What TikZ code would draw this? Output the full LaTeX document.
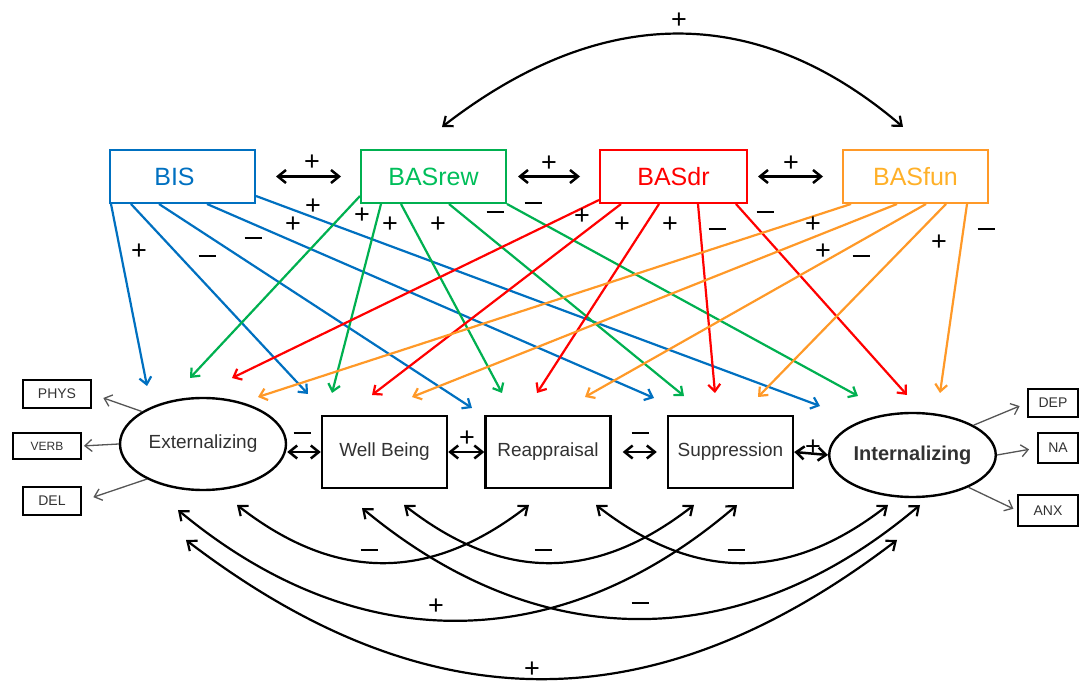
\documentclass[tikz,border=0pt]{standalone}
\usepackage{fontspec}
\setmainfont{Liberation Sans}
\usetikzlibrary{arrows.meta,shapes.geometric,calc}
\definecolor{cblue}{RGB}{0,112,192}
\definecolor{cgreen}{RGB}{0,176,80}
\definecolor{cgreentxt}{RGB}{0,190,90}
\definecolor{cred}{RGB}{255,0,0}
\definecolor{corange}{RGB}{255,153,40}
\definecolor{corangetxt}{RGB}{255,176,40}
\definecolor{cgrey}{RGB}{85,85,85}
\definecolor{ctext}{RGB}{50,50,50}
\begin{document}
\begin{tikzpicture}[x=1pt,y=-1pt,
  topbox/.style={draw, line width=2pt, minimum width=145pt, minimum height=53pt, inner sep=0pt, font=\fontsize{25}{25}\selectfont},
  midbox/.style={draw, line width=2.4pt, minimum width=125pt, minimum height=72pt, inner sep=0pt, font=\fontsize{19}{19}\selectfont, text=ctext},
  latent/.style={draw, ellipse, line width=2.4pt, inner sep=0pt},
  indbox/.style={draw, line width=2pt, inner sep=0pt, font=\fontsize{14}{14}\selectfont, text=ctext},
  patharrow/.style={line width=2.2pt, -{Straight Barb[length=7pt,width=12pt]}},
  corr/.style={line width=2.2pt, {Straight Barb[length=8pt,width=13pt]}-{Straight Barb[length=8pt,width=13pt]}},
  corrthick/.style={line width=2.5pt, {Straight Barb[length=8pt,width=13pt]}-{Straight Barb[length=8pt,width=13pt]}},
  indarrow/.style={line width=1.3pt, draw=cgrey, -{Straight Barb[length=7pt,width=12pt]}},
  plab/.style={inner sep=0pt, font=\fontsize{27}{27}\selectfont},
  mlab/.style={inner sep=0pt}
]
\useasboundingbox (0,0) rectangle (1080,684);

% top boxes
\node[topbox, draw=cblue, text=cblue] (bis) at (182.5,176.5) {BIS\hspace*{16pt}};
\node[topbox, draw=cgreen, text=cgreentxt] (rew) at (433.5,176.5) {BASrew};
\node[topbox, draw=cred, text=cred, minimum width=147pt] (dr) at (673.5,176.5) {BASdr};
\node[topbox, draw=corange, text=corangetxt] (fun) at (915.5,176.5) {BASfun};

% middle row
\node[latent, minimum width=166pt, minimum height=92pt, font=\fontsize{19}{19}\selectfont, text=ctext] (ext) at (203,444) {Externalizing};
\node[midbox] (wb) at (384.5,452) {Well Being};
\node[midbox] (reap) at (548,452) {Reappraisal};
\node[midbox] (supp) at (730.5,452) {Suppression};
\node[latent, minimum width=159pt, minimum height=84pt, font=\bfseries\fontsize{20}{20}\selectfont, text=ctext] (int) at (912.5,455) {Internalizing};

% indicators
\node[indbox, minimum width=68pt, minimum height=28pt] (phys) at (57,394) {PHYS};
\node[indbox, minimum width=68pt, minimum height=26pt, font=\fontsize{12}{12}\selectfont] (verb) at (47,446) {VERB};
\node[indbox, minimum width=58pt, minimum height=28pt] (del) at (52,501) {DEL};
\node[indbox, minimum width=50pt, minimum height=28pt] (dep) at (1053,403) {DEP};
\node[indbox, minimum width=40pt, minimum height=30pt] (na) at (1058,448) {NA};
\node[indbox, minimum width=60pt, minimum height=31pt] (anx) at (1048,510.5) {ANX};

\draw[indarrow, shorten >=12pt] (ext.152) -- (phys.east);
\draw[indarrow, shorten >=2pt] (ext.west) -- (verb.east);
\draw[indarrow, shorten >=12pt] (ext.212) -- (del.east);
\draw[indarrow, shorten >=8pt] (int.26) -- (dep.west);
\draw[indarrow, shorten >=8pt] (int.east) -- (na.west);
\draw[indarrow, shorten >=4pt] (int.-30) -- (anx.west);

% tips of the coloured paths
\coordinate (tb1) at (147,386); \coordinate (tg1) at (190,378); \coordinate (tr1) at (232,378); \coordinate (to1) at (258,397);
\coordinate (tb2) at (308,394); \coordinate (tg2) at (332,393); \coordinate (tr2) at (372,395); \coordinate (to2) at (412,397);
\coordinate (tb3) at (472,408); \coordinate (tg3) at (502,393); \coordinate (tr3) at (537,393); \coordinate (to3) at (585,397);
\coordinate (tb4) at (654,398); \coordinate (tg4) at (684,396); \coordinate (tr4) at (715,393); \coordinate (to4) at (758,397);
\coordinate (tb5) at (820,406); \coordinate (tg5) at (858,396); \coordinate (tr5) at (907,395); \coordinate (to5) at (940,393);

% BIS paths
\draw[patharrow, cblue] ([xshift=2pt]bis.south west) -- (tb1);
\draw[patharrow, cblue] ([xshift=22pt]bis.south west) -- (tb2);
\draw[patharrow, cblue] ([xshift=50pt]bis.south west) -- (tb3);
\draw[patharrow, cblue] ([xshift=98pt]bis.south west) -- (tb4);
\draw[patharrow, cblue] ([yshift=8pt]bis.south east) -- (tb5);
% BASrew paths
\draw[patharrow, cgreen] ([yshift=8pt]rew.south west) -- (tg1);
\draw[patharrow, cgreen] ([xshift=21pt]rew.south west) -- (tg2);
\draw[patharrow, cgreen] ([xshift=41pt]rew.south west) -- (tg3);
\draw[patharrow, cgreen] ([xshift=89pt]rew.south west) -- (tg4);
\draw[patharrow, cgreen] (rew.south east) -- (tg5);
% BASdr paths
\draw[patharrow, cred] ([yshift=4pt]dr.south west) -- (tr1);
\draw[patharrow, cred] ([xshift=22pt]dr.south west) -- (tr2);
\draw[patharrow, cred] ([xshift=60pt]dr.south west) -- (tr3);
\draw[patharrow, cred] ([xshift=99pt]dr.south west) -- (tr4);
\draw[patharrow, cred] ([xshift=137pt]dr.south west) -- (tr5);
% BASfun paths
\draw[patharrow, corange] ([xshift=9pt]fun.south west) -- (to1);
\draw[patharrow, corange] ([xshift=55pt]fun.south west) -- (to2);
\draw[patharrow, corange] ([xshift=84pt]fun.south west) -- (to3);
\draw[patharrow, corange] ([xshift=104pt]fun.south west) -- (to4);
\draw[patharrow, corange] ([xshift=125pt]fun.south west) -- (to5);

% correlations among top boxes
\draw[corrthick, shorten <=20pt, shorten >=19pt] (bis) -- (rew);
\draw[corrthick, shorten <=11pt, shorten >=19pt] (rew) -- (dr);
\draw[corrthick, shorten <=10pt, shorten >=19pt] (dr) -- (fun);
\draw[corr] ([shift={(8.5,-22)}]rew.north) .. controls +(160,-124) and +(-145,-124) .. ([shift={(-12.5,-22)}]fun.north);

% correlations in middle row
\draw[corrthick] (ext.east |- wb.west) -- (wb.west);
\draw[corrthick] (wb.east) -- (reap.west);
\draw[corrthick, shorten <=11pt, shorten >=10pt] (reap.east) -- (supp.west);
\draw[corrthick] (supp.east) -- (int.west);

% bottom arcs
\draw[corr] ([shift={(34,61)}]ext.center) .. controls +(99,77) and +(-99,77) .. ([shift={(-19,53)}]reap.center);
\draw[corr] ([shift={(19.5,53)}]wb.center) .. controls +(99,77) and +(-99,77) .. ([shift={(-36.5,53)}]supp.center);
\draw[corr] ([shift={(48,53)}]reap.center) .. controls +(99,77) and +(-99,77) .. ([shift={(-24.5,50)}]int.center);
\draw[corr] ([shift={(-25,66)}]ext.center) .. controls +(178,148) and +(-178,153) .. ([shift={(6.5,53)}]supp.center);
\draw[corr] ([shift={(-22.5,56)}]wb.center) .. controls +(178,148) and +(-178,151) .. ([shift={(7.5,50)}]int.center);
\draw[corr] ([shift={(-17,96)}]ext.center) .. controls +(242,185) and +(-242,185) .. ([shift={(-15.5,85)}]int.center);

% sign labels
\foreach \x/\y [count=\i] in {139/252, 293/225, 313/207, 362/216, 390/225, 438/225, 582/217, 622/225, 670/225, 813/225, 823/252, 939/243, 312/163, 549/164, 791/164, 679/21, 467/439, 813/448, 436/607, 532/670}
  \node[plab] (pl\i) at (\x,\y) {+};
\foreach \x/\y [count=\i] in {207/256, 253/238, 495/212, 533/203, 717/229, 765/212, 861/256, 986/229, 302/433, 640/433, 369/550, 543/550, 736/550, 640/603}
  \node[mlab] (mi\i) at (\x,\y) {\rule{17pt}{2.2pt}};
\end{tikzpicture}
\end{document}
